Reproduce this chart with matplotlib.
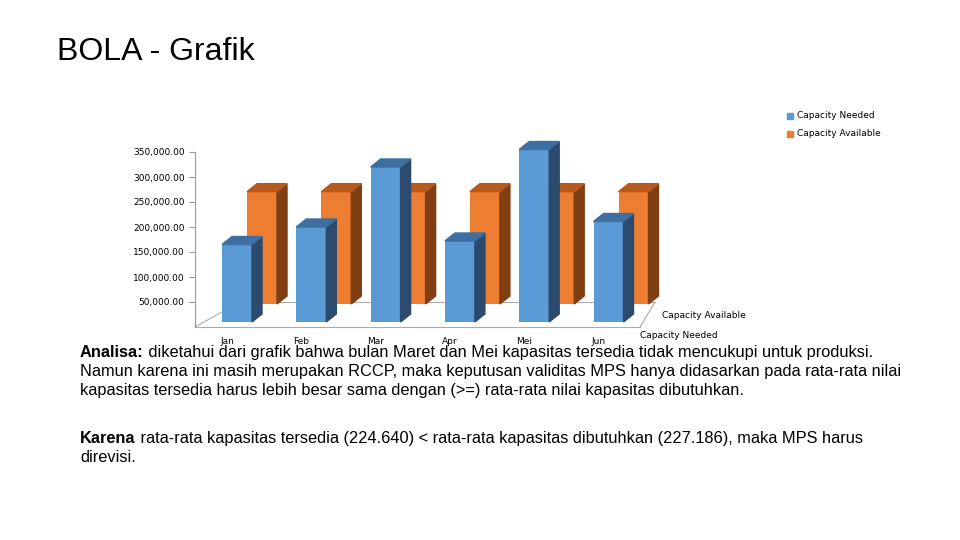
import matplotlib
matplotlib.use("Agg")
import matplotlib.pyplot as plt
from matplotlib.patches import Polygon, Rectangle

months = ["Jan", "Feb", "Mar", "Apr", "Mei", "Jun"]
needed = [155000, 190000, 310000, 162000, 345000, 201000]
available = [224640, 224640, 224640, 224640, 224640, 224640]
yticks = [50000, 100000, 150000, 200000, 250000, 300000, 350000]

fig = plt.figure(figsize=(9.6, 5.4), dpi=100)
fig.text(57/960, 1-52/540, "BOLA - Grafik", fontsize=23, va="center", ha="left", family="Liberation Sans")

ax = fig.add_axes([195/960, (540-327)/540, 445/960, 175/540])
ax.set_xlim(0, 445)
ax.set_ylim(0, 350000)
PX = 2000
for s in ["top", "right", "bottom"]:
    ax.spines[s].set_visible(False)
ax.spines["left"].set_color("#999999")
ax.set_xticks([])
ax.set_yticks(yticks)
ax.set_yticklabels([f"{v:,.2f}" for v in yticks], fontsize=6.5)
ax.tick_params(axis="y", colors="#999999", labelcolor="black", length=4)
ax.patch.set_alpha(0)

ax.plot([0, 445], [0, 0], color="#aaaaaa", lw=0.8, clip_on=False)
ax.plot([0, 45], [0, 25*PX], color="#aaaaaa", lw=0.8, clip_on=False)
ax.plot([45, 460], [25*PX, 25*PX], color="#aaaaaa", lw=0.8, clip_on=False)
ax.plot([445, 460], [0, 25*PX], color="#aaaaaa", lw=0.8, clip_on=False)

def bar3d(x0, base, val, w, face, side, top):
    dx, dy = 10, 8*PX
    ax.bar(x0, val, width=w, bottom=base, align="edge", color=face, edgecolor="none", clip_on=False, zorder=3)
    ax.add_patch(Polygon([(x0+w, base), (x0+w+dx, base+dy), (x0+w+dx, base+val+dy), (x0+w, base+val)],
                         closed=True, color=side, clip_on=False, zorder=3))
    ax.add_patch(Polygon([(x0, base+val), (x0+dx, base+val+dy), (x0+w+dx, base+val+dy), (x0+w, base+val)],
                         closed=True, color=top, clip_on=False, zorder=3))

step = 74.3
for i, m in enumerate(months):
    bar3d(52 + i*step, 23*PX, available[i], 30, "#ED7D31", "#7F3F12", "#B85A1E")
for i, m in enumerate(months):
    xn = 27 + i*step
    bar3d(xn, 5*PX, needed[i], 30, "#5B9BD5", "#2C4A6E", "#3E6FA0")
    ax.text(xn + 5, -15*PX, m, fontsize=6.5, ha="center", va="center", clip_on=False)

fig.text(662/960, 1-316/540, "Capacity Available", fontsize=6.5, va="center")
fig.text(640/960, 1-335/540, "Capacity Needed", fontsize=6.5, va="center")

for y, lab, c in [(116, "Capacity Needed", "#5B9BD5"), (134, "Capacity Available", "#ED7D31")]:
    fig.patches.append(Rectangle((787/960, 1-(y+3)/540), 6/960, 6/540, transform=fig.transFigure, color=c))
    fig.text(797/960, 1-y/540, lab, fontsize=6.5, va="center")

fs = 11.8
fam = "Liberation Sans Narrow"
import matplotlib.font_manager as fm
try:
    fm.findfont(fam, fallback_to_default=False)
except Exception:
    fam = "Liberation Sans"
renderer = fig.canvas.get_renderer()

def para(y, bold, first, rest):
    b = fig.text(80/960, 1-y/540, bold, fontsize=fs, va="baseline", ha="left", family=fam, weight="bold")
    w = b.get_window_extent(renderer).width
    fig.text(80/960 + w/960, 1-y/540, first, fontsize=fs, va="baseline", ha="left", family=fam)
    for k, line in enumerate(rest):
        fig.text(80/960, 1-(y + 19*(k+1))/540, line, fontsize=fs, va="baseline", ha="left", family=fam)

para(357, "Analisa:", " diketahui dari grafik bahwa bulan Maret dan Mei kapasitas tersedia tidak mencukupi untuk produksi.",
     ["Namun karena ini masih merupakan RCCP, maka keputusan validitas MPS hanya didasarkan pada rata-rata nilai",
      "kapasitas tersedia harus lebih besar sama dengan (>=) rata-rata nilai kapasitas dibutuhkan."])
para(443, "Karena", " rata-rata kapasitas tersedia (224.640) < rata-rata kapasitas dibutuhkan (227.186), maka MPS harus",
     ["direvisi."])

fig.savefig("out.png", dpi=100)
